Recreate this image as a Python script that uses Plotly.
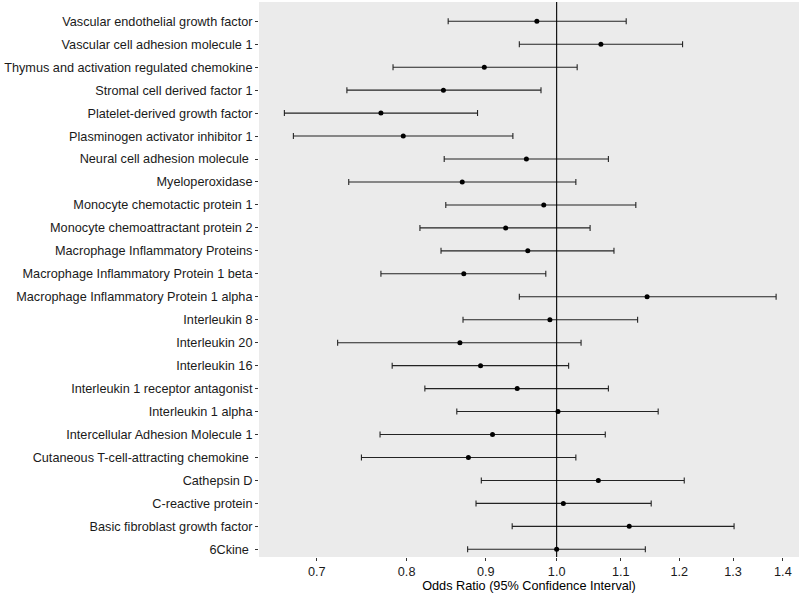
import math
import plotly.graph_objects as go

# Categories listed top to bottom as in the reference
categories = [
    "Vascular endothelial growth factor",
    "Vascular cell adhesion molecule 1",
    "Thymus and activation regulated chemokine",
    "Stromal cell derived factor 1",
    "Platelet-derived growth factor",
    "Plasminogen activator inhibitor 1",
    "Neural cell adhesion molecule\u00a0",
    "Myeloperoxidase",
    "Monocyte chemotactic protein 1",
    "Monocyte chemoattractant protein 2",
    "Macrophage Inflammatory Proteins",
    "Macrophage Inflammatory Protein 1 beta",
    "Macrophage Inflammatory Protein 1 alpha",
    "Interleukin 8",
    "Interleukin 20",
    "Interleukin 16",
    "Interleukin 1 receptor antagonist",
    "Interleukin 1 alpha",
    "Intercellular Adhesion Molecule 1",
    "Cutaneous T-cell-attracting chemokine\u00a0",
    "Cathepsin D",
    "C-reactive protein",
    "Basic fibroblast growth factor",
    "6Ckine\u00a0",
]

odds_ratio = [0.971, 1.068, 0.898, 0.845, 0.770, 0.796, 0.956, 0.869,
              0.981, 0.927, 0.958, 0.871, 1.144, 0.990, 0.866, 0.893,
              0.943, 1.002, 0.909, 0.877, 1.064, 1.010, 1.114, 1.000]
ci_lower = [0.851, 0.946, 0.784, 0.732, 0.667, 0.676, 0.846, 0.734,
            0.848, 0.816, 0.842, 0.770, 0.946, 0.870, 0.722, 0.783,
            0.822, 0.862, 0.769, 0.748, 0.894, 0.887, 0.936, 0.876]
ci_upper = [1.109, 1.206, 1.031, 0.977, 0.889, 0.937, 1.080, 1.029,
            1.125, 1.051, 1.089, 0.984, 1.386, 1.128, 1.037, 1.018,
            1.080, 1.163, 1.075, 1.029, 1.209, 1.151, 1.302, 1.141]

x_ticks = [0.7, 0.8, 0.9, 1.0, 1.1, 1.2, 1.3, 1.4]
x_tick_labels = ["0.7", "0.8", "0.9", "1.0", "1.1", "1.2", "1.3", "1.4"]

err_plus = [u - p for u, p in zip(ci_upper, odds_ratio)]
err_minus = [p - l for p, l in zip(odds_ratio, ci_lower)]

fig = go.Figure()
fig.add_trace(go.Scatter(
    x=odds_ratio,
    y=categories,
    mode="markers",
    marker=dict(color="black", size=5),
    error_x=dict(type="data", symmetric=False, array=err_plus,
                 arrayminus=err_minus, color="rgba(0,0,0,0.85)",
                 thickness=1.1, width=3),
    showlegend=False,
    hoverinfo="x+y",
))

fig.add_shape(type="line", xref="x", yref="paper", x0=1, x1=1, y0=0, y1=1,
              line=dict(color="black", width=1.1), layer="above")

font_family = "Liberation Sans, Arial, sans-serif"
fig.update_layout(
    width=800, height=596,
    margin=dict(l=259, r=1, t=2, b=39, autoexpand=False),
    paper_bgcolor="white",
    plot_bgcolor="#EBEBEB",
    font=dict(family=font_family, size=12.7, color="#1a1a1a"),
    xaxis=dict(
        type="log",
        automargin=False,
        range=[math.log10(0.6423), math.log10(1.434)],
        tickvals=x_ticks, ticktext=x_tick_labels,
        showgrid=False, zeroline=False, showline=False,
        ticks="outside", ticklen=3, tickcolor="#333333", tickwidth=1,
        tickfont=dict(size=12.7, color="#1a1a1a"),
        title=dict(text="Odds Ratio (95% Confidence Interval)",
                   font=dict(size=12.7, color="black"), standoff=1),
    ),
    yaxis=dict(
        type="category",
        automargin=False,
        categoryorder="array",
        categoryarray=list(reversed(categories)),
        range=[-0.335, 23.84],
        showgrid=False, zeroline=False, showline=False,
        ticks="outside", ticklen=3, tickcolor="#333333", tickwidth=1,
        tickfont=dict(size=12.7, color="#1a1a1a"),
    ),
)

fig.write_html(
    "out.html",
    config={"displayModeBar": False},
    post_script="document.body.style.margin='0';document.body.style.overflow='hidden';",
)
